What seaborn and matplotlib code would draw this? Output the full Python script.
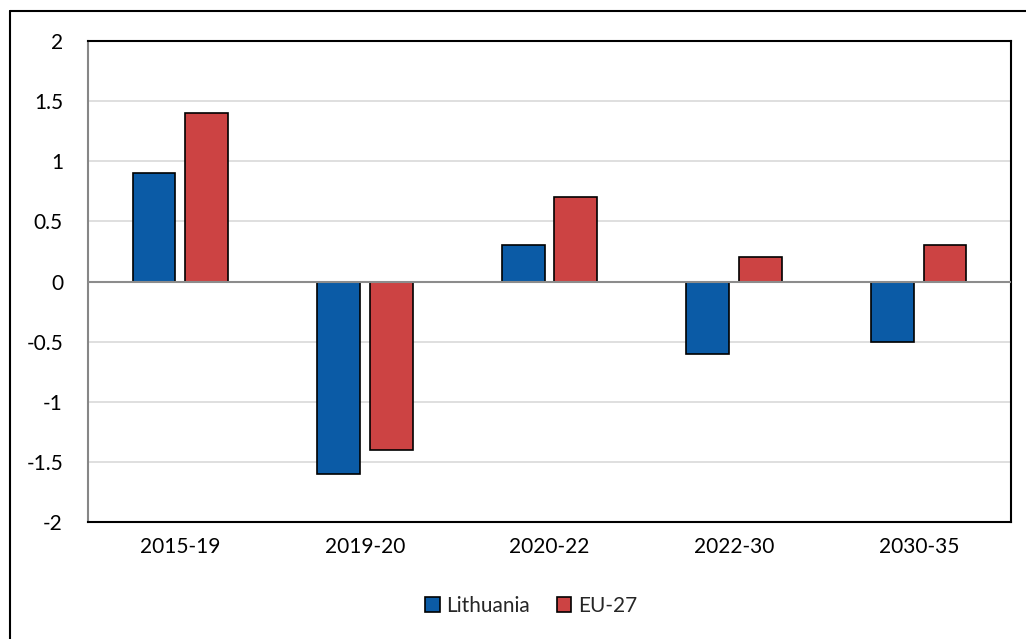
import matplotlib
matplotlib.use("Agg")
import matplotlib.pyplot as plt
import seaborn as sns
import pandas as pd
from matplotlib.lines import Line2D
from matplotlib.patches import Patch

periods = ["2015-19", "2019-20", "2020-22", "2022-30", "2030-35"]
lithuania = [0.9, -1.6, 0.3, -0.6, -0.5]
eu27 = [1.4, -1.4, 0.7, 0.2, 0.3]
series_names = ["Lithuania", "EU-27"]
colors = ["#0B5BA6", "#CC4343"]
yticks = [-2, -1.5, -1, -0.5, 0, 0.5, 1, 1.5, 2]

df = pd.DataFrame({
    "period": periods * 2,
    "value": lithuania + eu27,
    "series": [series_names[0]] * len(periods) + [series_names[1]] * len(periods),
})

sns.set_theme(style="white")
plt.rcParams["font.family"] = ["Lato", "DejaVu Sans"]

fig = plt.figure(figsize=(10.26, 6.39), dpi=100)
ax = fig.add_axes([88 / 1026, 1 - 522 / 639, (1011 - 88) / 1026, (522 - 41) / 639])

sns.barplot(data=df, x="period", y="value", hue="series", palette=colors,
            width=0.57, gap=0.19, edgecolor="black", linewidth=1.2,
            saturation=1, ax=ax, legend=False, zorder=3)

ax.set_ylim(-2, 2)
ax.set_yticks(yticks)
ax.set_yticklabels([f"{t:g}" for t in yticks])
ax.yaxis.grid(True, color="#d9d9d9", linewidth=1.2, zorder=0)
ax.set_axisbelow(True)
ax.axhline(0, color="#8c8c8c", linewidth=1.5, zorder=4)
ax.set_xlabel("")
ax.set_ylabel("")
ax.tick_params(axis="both", length=0, labelsize=15, colors="black")
ax.tick_params(axis="y", pad=18)
ax.tick_params(axis="x", pad=11)
for s in ["top", "right", "bottom"]:
    ax.spines[s].set_color("black")
    ax.spines[s].set_linewidth(1.5)
ax.spines["left"].set_color("#868686")
ax.spines["left"].set_linewidth(1.5)

handles = [Patch(facecolor=c, edgecolor="black", linewidth=1.2, label=n)
           for c, n in zip(colors, series_names)]
fig.legend(handles=handles, loc="center", bbox_to_anchor=(531 / 1026, 1 - 606 / 639),
           ncol=2, frameon=False, fontsize=15, handlelength=0.7, handleheight=0.7,
           handletextpad=0.3, columnspacing=1.3)

# outer chart frame
fig.add_artist(Line2D([10 / 1026, 10 / 1026], [-0.1, 1 - 11 / 639], color="black", linewidth=1.5))
fig.add_artist(Line2D([10 / 1026, 1.1], [1 - 11 / 639, 1 - 11 / 639], color="black", linewidth=1.5))

fig.savefig("out.png", dpi=100)
